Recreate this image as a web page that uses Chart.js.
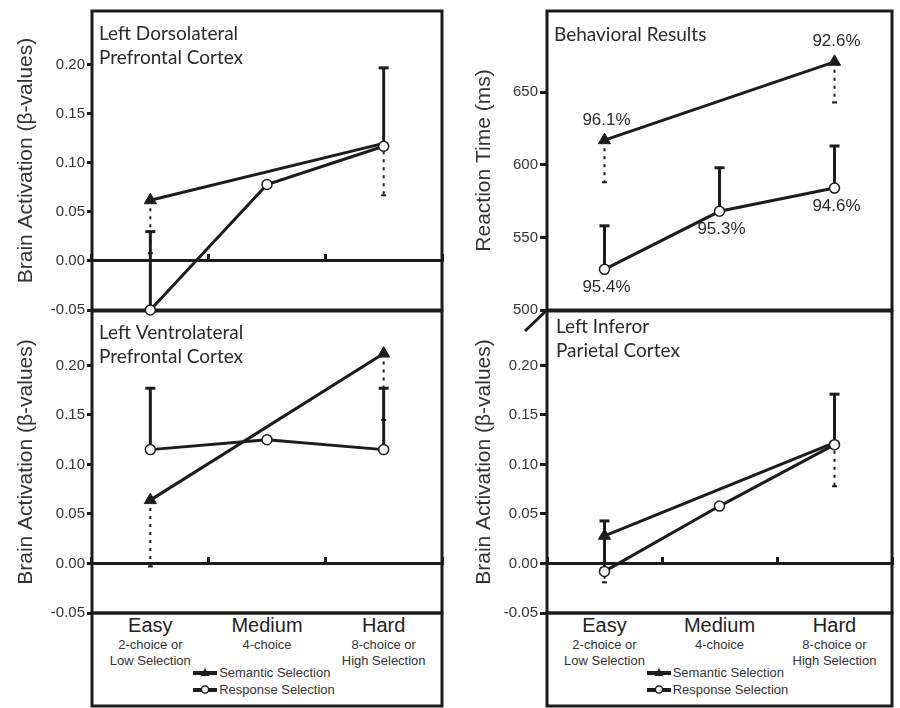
<!DOCTYPE html>
<html>
<head>
<meta charset="utf-8">
<title>Brain activation and reaction time by selection difficulty</title>
<script src="https://cdn.jsdelivr.net/npm/chart.js@4.4.1/dist/chart.umd.min.js"></script>
<style>
  body { margin: 0; background: #fff; }
  #wrap { position: relative; width: 900px; height: 708px; overflow: hidden; font-family: 'Liberation Sans', Arial, sans-serif; color: #222; }
  #wrap canvas { position: absolute; }
  .cat { position: absolute; transform: translateX(-50%); text-align: center; white-space: nowrap; }
  .cat .main { font-size: 20px; line-height: 20px; }
  .cat .note { font-size: 13px; line-height: 16px; margin-top: 2px; color: #333; }
  .legend { position: absolute; font-size: 13px; line-height: 17px; color: #333; white-space: nowrap; }
  .legend svg { vertical-align: -1px; margin-right: 2px; }
</style>
</head>
<body>
<div id="wrap">
  <canvas id="dlpfc" width="450" height="330" style="left:0;top:0;z-index:2"></canvas>
  <canvas id="vlpfc" width="450" height="408" style="left:0;top:300px;z-index:1"></canvas>
  <canvas id="behav" width="450" height="340" style="left:450px;top:0;z-index:2"></canvas>
  <canvas id="ipc" width="450" height="408" style="left:450px;top:300px;z-index:1"></canvas>
</div>
<script>
/* ---------- data ---------- */
const categories = ['Easy', 'Medium', 'Hard'];
const categoryNotes = [['2-choice or', 'Low Selection'], ['4-choice'], ['8-choice or', 'High Selection']];
const seriesNames = ['Semantic Selection', 'Response Selection'];

const betaTicks = [-0.05, 0.00, 0.05, 0.10, 0.15, 0.20];
const rtTicks = [500, 550, 600, 650];

// Left Dorsolateral Prefrontal Cortex (semantic bars go down, response bars go up)
const dlpfcSemantic = [0.062, null, 0.120];
const dlpfcSemanticErr = [0.008, null, 0.067];
const dlpfcResponse = [-0.050, 0.078, 0.117];
const dlpfcResponseErr = [0.030, null, 0.197];

// Left Ventrolateral Prefrontal Cortex
const vlpfcSemantic = [0.064, null, 0.212];
const vlpfcSemanticErr = [-0.003, null, 0.145];
const vlpfcResponse = [0.115, 0.125, 0.115];
const vlpfcResponseErr = [0.177, null, 0.177];

// Behavioral results: reaction time (ms) and accuracy
const rtSemantic = [617, null, 671];
const rtSemanticErr = [588, null, 643];
const rtResponse = [528, 568, 584];
const rtResponseErr = [558, 598, 613];
const accSemantic = ['96.1%', null, '92.6%'];
const accResponse = ['95.4%', '95.3%', '94.6%'];

// Left Inferior Parietal Cortex
const ipcSemantic = [0.028, null, 0.122];
const ipcSemanticErr = [-0.019, null, 0.078];
const ipcResponse = [-0.008, 0.058, 0.120];
const ipcResponseErr = [0.043, null, 0.171];

/* ---------- look ---------- */
const INK = '#1c1c1c';
const TEXT = '#2a2a2a';
const SANS = "'Liberation Sans', Arial, sans-serif";
const TITLE_FONT = "19px Lato, 'Noto Sans', sans-serif";

Chart.defaults.font.family = SANS;
Chart.defaults.color = TEXT;

// box round the plot area (and the label strip under the bottom panels)
const framePlugin = {
  id: 'frame',
  beforeDatasetsDraw(chart, args, o) {
    const { ctx, chartArea: a } = chart;
    ctx.save();
    ctx.strokeStyle = INK;
    ctx.lineWidth = 3;
    ctx.strokeRect(a.left, a.top, a.right - a.left, a.bottom - a.top);
    if (o.extend) ctx.strokeRect(a.left, a.bottom, a.right - a.left, o.extend);
    if (o.breakMark) {
      ctx.beginPath();
      ctx.moveTo(a.left - 22, a.bottom + 21);
      ctx.lineTo(a.left, a.bottom);
      ctx.stroke();
    }
    ctx.restore();
  }
};

// one-sided error bars: solid up for response, dotted down for semantic
const errorBarPlugin = {
  id: 'errorBars',
  beforeDatasetsDraw(chart) {
    const { ctx } = chart;
    const yScale = chart.scales.y;
    chart.data.datasets.forEach((ds, i) => {
      if (!ds.errorTo) return;
      const meta = chart.getDatasetMeta(i);
      const dotted = !!ds.errorDash;
      ctx.save();
      ctx.strokeStyle = INK;
      ctx.lineWidth = dotted ? 2 : 3;
      ds.errorTo.forEach((v, j) => {
        if (v == null || ds.data[j] == null) return;
        const pt = meta.data[j];
        const yEnd = yScale.getPixelForValue(v);
        ctx.setLineDash(dotted ? ds.errorDash : []);
        ctx.beginPath();
        ctx.moveTo(pt.x, pt.y);
        ctx.lineTo(pt.x, yEnd);
        ctx.stroke();
        ctx.setLineDash([]);
        const cap = dotted ? 2.5 : 5;
        ctx.beginPath();
        ctx.moveTo(pt.x - cap, yEnd);
        ctx.lineTo(pt.x + cap, yEnd);
        ctx.stroke();
      });
      ctx.restore();
    });
  }
};

// accuracy text next to the behavioral points
const pointLabelPlugin = {
  id: 'pointLabels',
  afterDatasetsDraw(chart) {
    const { ctx } = chart;
    chart.data.datasets.forEach((ds, i) => {
      if (!ds.pointLabels) return;
      const meta = chart.getDatasetMeta(i);
      ctx.save();
      ctx.font = '17px ' + SANS;
      ctx.fillStyle = TEXT;
      ctx.textAlign = 'center';
      ctx.textBaseline = 'middle';
      ds.pointLabels.forEach((t, j) => {
        if (!t) return;
        const pt = meta.data[j];
        ctx.fillText(t, pt.x + 2, pt.y + (ds.labelAbove ? -20 : 18));
      });
      ctx.restore();
    });
  }
};

// region name in the top left corner of each panel
const panelTitlePlugin = {
  id: 'panelTitle',
  afterDraw(chart, args, o) {
    if (!o.lines) return;
    const { ctx, chartArea: a } = chart;
    ctx.save();
    ctx.font = TITLE_FONT;
    ctx.fillStyle = TEXT;
    ctx.textBaseline = 'middle';
    o.lines.forEach((t, k) => ctx.fillText(t, a.left + o.dx, a.top + o.dy + k * 24));
    ctx.restore();
  }
};

function makePanel(id, p) {
  const datasets = [
    {
      label: seriesNames[0],
      data: p.semantic,
      errorTo: p.semanticErr,
      errorDash: [3, 5],
      pointLabels: p.semanticLabels,
      labelAbove: true,
      order: 1,
      spanGaps: true,
      clip: false,
      borderColor: INK,
      borderWidth: 3,
      pointStyle: 'triangle',
      pointRadius: p.semanticRadius || 7,
      pointBackgroundColor: INK,
      pointBorderColor: INK,
      pointBorderWidth: 1
    },
    {
      label: seriesNames[1],
      data: p.response,
      errorTo: p.responseErr,
      pointLabels: p.responseLabels,
      order: 0,
      spanGaps: true,
      clip: false,
      borderColor: INK,
      borderWidth: 3,
      pointStyle: 'circle',
      pointRadius: 5,
      pointBackgroundColor: '#fff',
      pointBorderColor: INK,
      pointBorderWidth: 1.5
    }
  ];

  return new Chart(document.getElementById(id), {
    type: 'line',
    data: { labels: categories, datasets },
    plugins: [framePlugin, errorBarPlugin, pointLabelPlugin, panelTitlePlugin],
    options: {
      responsive: false,
      animation: false,
      devicePixelRatio: 1,
      layout: { padding: p.padding },
      plugins: {
        legend: { display: false },
        tooltip: { enabled: false },
        frame: { extend: p.extend, breakMark: p.breakMark },
        panelTitle: { lines: p.title, dx: p.titleDx, dy: p.titleDy }
      },
      scales: {
        x: {
          type: 'category',
          offset: true,
          position: { y: 0 },
          display: p.zeroLine,
          grid: { offset: true, drawOnChartArea: false, drawTicks: true, tickLength: -8, tickWidth: 3, tickColor: INK },
          border: { display: true, width: 3, color: INK },
          ticks: { display: false }
        },
        y: {
          min: p.min,
          max: p.max,
          afterFit: s => { s.width = p.axisWidth; },
          afterBuildTicks: s => { s.ticks = p.ticks.map(v => ({ value: v })); },
          grid: { drawOnChartArea: false, drawTicks: true, tickLength: p.tickLen, tickWidth: 3, tickColor: INK },
          border: { display: false },
          ticks: { font: { size: 15 }, color: '#333', padding: 2, callback: p.fmt },
          title: {
            display: true,
            text: p.yTitle,
            font: { size: 21 },
            color: '#333',
            padding: { top: p.titlePad, bottom: 0 }
          }
        }
      }
    }
  });
}

const beta = v => v.toFixed(2);
const ms = v => String(v);
const BETA_TITLE = 'Brain Activation (\u03b2-values)';

const dlpfc = makePanel('dlpfc', {
  semantic: dlpfcSemantic, semanticErr: dlpfcSemanticErr, semanticRadius: [7, 0, 0],
  response: dlpfcResponse, responseErr: dlpfcResponseErr,
  min: -0.05, max: 0.255, ticks: betaTicks, fmt: beta, yTitle: BETA_TITLE,
  axisWidth: 92, titlePad: 14, tickLen: 5, zeroLine: true,
  padding: { top: 5, bottom: 20, right: 8 },
  title: ['Left Dorsolateral', 'Prefrontal Cortex'], titleDx: 7, titleDy: 23
});

const vlpfc = makePanel('vlpfc', {
  semantic: vlpfcSemantic, semanticErr: vlpfcSemanticErr,
  response: vlpfcResponse, responseErr: vlpfcResponseErr,
  min: -0.05, max: 0.255, ticks: betaTicks, fmt: beta, yTitle: BETA_TITLE,
  axisWidth: 92, titlePad: 14, tickLen: 5, zeroLine: true,
  padding: { top: 10, bottom: 95, right: 8 }, extend: 93,
  title: ['Left Ventrolateral', 'Prefrontal Cortex'], titleDx: 7, titleDy: 22
});

const behav = makePanel('behav', {
  semantic: rtSemantic, semanticErr: rtSemanticErr, semanticLabels: accSemantic,
  response: rtResponse, responseErr: rtResponseErr, responseLabels: accResponse,
  min: 500, max: 706, ticks: rtTicks, fmt: ms, yTitle: 'Reaction Time (ms)',
  axisWidth: 97, titlePad: 22, tickLen: 7, zeroLine: false,
  padding: { top: 5, bottom: 30, right: 4 }, breakMark: true,
  title: ['Behavioral Results'], titleDx: 7, titleDy: 24
});

const ipc = makePanel('ipc', {
  semantic: ipcSemantic, semanticErr: ipcSemanticErr, semanticRadius: [7, 0, 0],
  response: ipcResponse, responseErr: ipcResponseErr,
  min: -0.05, max: 0.255, ticks: betaTicks, fmt: beta, yTitle: BETA_TITLE,
  axisWidth: 97, titlePad: 22, tickLen: 7, zeroLine: true,
  padding: { top: 10, bottom: 95, right: 4 }, extend: 93,
  title: ['Left Inferor', 'Parietal Cortex'], titleDx: 9, titleDy: 16
});

/* ---------- category names and legend under the bottom panels ---------- */
function legendSymbol(k) {
  const mark = k === 0
    ? `<polygon points="12,1 16.5,9 7.5,9" fill="${INK}"/>`
    : `<circle cx="12" cy="5.5" r="3.6" fill="#fff" stroke="${INK}" stroke-width="1.5"/>`;
  return `<svg width="24" height="11"><line x1="0" y1="6" x2="24" y2="6" stroke="${INK}" stroke-width="4"/>${mark}</svg>`;
}

function addFooter(chart, offsetX, offsetY) {
  const wrap = document.getElementById('wrap');
  const a = chart.chartArea;
  const xs = chart.scales.x;
  categories.forEach((c, i) => {
    const el = document.createElement('div');
    el.className = 'cat';
    el.style.left = (offsetX + xs.getPixelForValue(i)) + 'px';
    el.style.top = (offsetY + a.bottom + 2) + 'px';
    el.innerHTML = `<div class="main">${c}</div>` +
      categoryNotes[i].map(t => `<div class="note">${t}</div>`).join('').replace('</div><div class="note">', '<br>');
    wrap.appendChild(el);
  });
  const lg = document.createElement('div');
  lg.className = 'legend';
  lg.style.left = (offsetX + a.left + (a.right - a.left) * 0.289) + 'px';
  lg.style.top = (offsetY + a.bottom + 51) + 'px';
  lg.innerHTML = seriesNames.map((s, k) => `<div>${legendSymbol(k)}${s}</div>`).join('');
  wrap.appendChild(lg);
}

addFooter(vlpfc, 0, 300);
addFooter(ipc, 450, 300);
</script>
</body>
</html>
